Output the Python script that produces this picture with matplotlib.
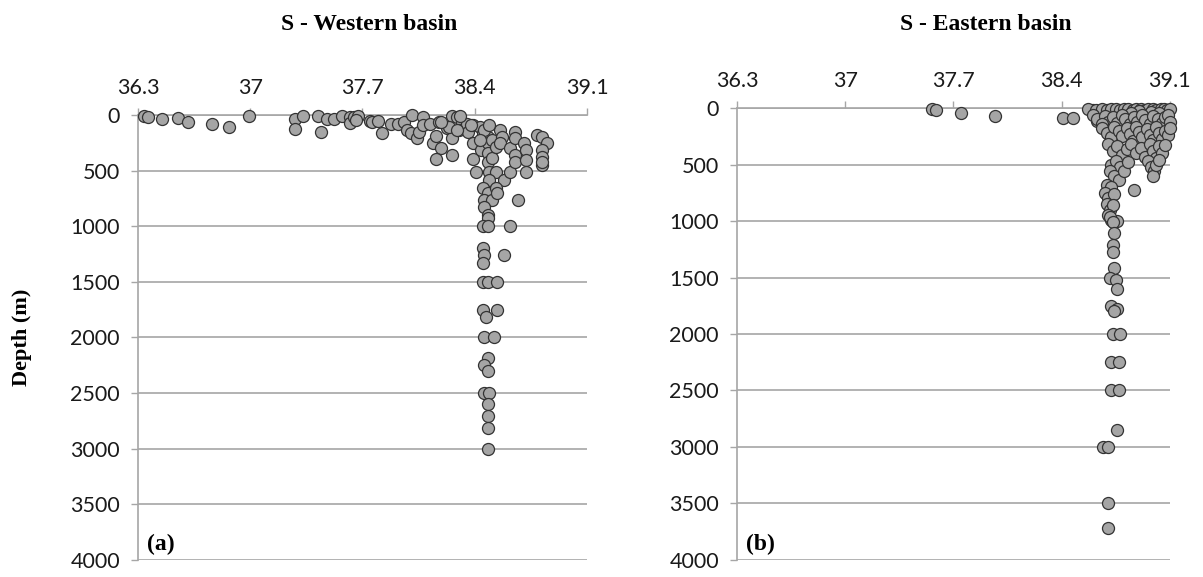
#!/usr/bin/env python3
from __future__ import annotations

import matplotlib

matplotlib.use("Agg")
import matplotlib.pyplot as plt

# Salinity (S) vs depth (m).
west_salinity = [
    36.34, 36.36, 36.45, 36.55, 36.61, 36.76, 36.87, 36.99, 37.28, 37.28,
    37.33, 37.42, 37.44, 37.48, 37.52, 37.57, 37.62, 37.62, 37.65, 37.67,
    37.66, 37.75, 37.76, 37.80, 37.82, 37.88, 37.92, 37.96, 37.98, 38.00,
    38.01, 38.04, 38.05, 38.08, 38.08, 38.12, 38.14, 38.16, 38.19, 38.18,
    38.16, 38.23, 38.26, 38.26, 38.26, 38.29, 38.32, 38.30, 38.35, 38.36,
    38.39, 38.39, 38.39, 38.41, 38.31, 38.24, 38.43, 38.44, 38.45, 38.48,
    38.48, 38.48, 38.48, 38.51, 38.51, 38.49, 38.53, 38.49, 38.53, 38.56,
    38.57, 38.56, 38.58, 38.62, 38.62, 38.65, 38.65, 38.65, 38.65, 38.71,
    38.72, 38.72, 38.72, 38.79, 38.82, 38.85, 38.82, 38.82, 38.82, 38.82,
    38.46, 38.43, 38.49, 38.19, 38.29, 38.38,
    38.45, 38.48, 38.53, 38.46, 38.51, 38.54, 38.46, 38.48, 38.48, 38.67,
    38.45, 38.48, 38.62, 38.45, 38.46, 38.45, 38.58,
    38.45, 38.48, 38.54, 38.45, 38.54, 38.47, 38.46, 38.52, 38.48, 38.46,
    38.48, 38.46, 38.49, 38.48, 38.48, 38.48, 38.48,
]
west_depth = [
    10, 20, 35, 25, 65, 80, 110, 10, 35, 125,
    10, 10, 150, 35, 35, 10, 20, 70, 20, 10,
    45, 55, 65, 55, 160, 80, 80, 65, 135, 160,
    0, 205, 150, 20, 90, 80, 250, 190, 300, 65,
    400, 115, 10, 205, 360, 20, 65, 135, 80, 150,
    90, 250, 400, 510, 10, 110, 110, 315, 160, 200,
    250, 340, 420, 225, 385, 510, 510, 585, 285, 135,
    200, 250, 585, 510, 295, 150, 205, 360, 420, 250,
    315, 405, 510, 180, 200, 250, 315, 375, 450, 420,
    135, 225, 90, 60, 135, 90,
    655, 700, 655, 765, 765, 700, 825, 900, 925, 765,
    1000, 1000, 1000, 1195, 1255, 1330, 1255,
    1500, 1500, 1500, 1750, 1750, 1815, 2000, 2000, 2180, 2250,
    2300, 2500, 2500, 2600, 2710, 2810, 3000,
]

east_salinity = [
    37.56, 37.59, 37.75, 37.97, 38.41, 38.47, 38.60, 38.63,
    38.57, 38.62, 38.66, 38.69, 38.72, 38.75, 38.78, 38.80, 38.83, 38.86,
    38.88, 38.91, 38.94, 38.96, 38.99, 39.01, 39.04, 39.06, 39.08, 39.10,
    38.90, 38.85, 38.98, 39.03,
    38.60, 38.63, 38.68, 38.70, 38.73, 38.76, 38.79, 38.81, 38.84, 38.87,
    38.89, 38.92, 38.94, 38.97, 38.99, 39.02, 39.05, 39.07, 39.09, 39.10,
    38.66,
    38.66, 38.69, 38.72, 38.74, 38.77, 38.79, 38.82, 38.84, 38.86, 38.88,
    38.90, 38.92, 38.95, 38.97, 38.99, 39.01, 39.03, 39.05, 39.07, 39.09,
    39.10,
    38.70, 38.73, 38.76, 38.79, 38.82, 38.85, 38.88, 38.91, 38.94, 38.97,
    38.99, 39.01, 39.03, 39.05, 39.07,
    38.72, 38.75, 38.78, 38.71, 38.74, 38.77, 38.80, 38.83, 38.96, 38.98,
    39.00, 38.99, 39.01, 39.03,
    38.69, 38.72, 38.68, 38.70, 38.74, 38.87, 38.69, 38.71, 38.73, 38.70,
    38.72, 38.76, 38.71, 38.73, 38.74, 38.73, 38.73, 38.74,
    38.71, 38.75, 38.76, 38.72, 38.76, 38.74, 38.73, 38.78, 38.72, 38.77,
    38.72, 38.77, 38.76, 38.67, 38.70, 38.70, 38.70,
]
east_depth = [
    10, 15, 45, 75, 90, 90, 15, 115,
    10, 15, 5, 20, 10, 5, 15, 10, 5, 20,
    10, 5, 15, 10, 5, 20, 10, 5, 15, 10,
    30, 40, 35, 40,
    60, 100, 70, 120, 80, 130, 60, 100, 140, 80,
    120, 60, 110, 140, 70, 100, 130, 80, 60, 120,
    140,
    180, 220, 260, 170, 200, 250, 180, 230, 290, 170,
    210, 260, 190, 240, 280, 170, 220, 270, 200, 240,
    180,
    320, 380, 340, 420, 360, 320, 400, 350, 430, 320,
    380, 440, 340, 400, 330,
    500, 470, 520, 560, 600, 640, 560, 480, 470, 520,
    560, 600, 500, 460,
    680, 700, 750, 800, 760, 730, 850, 900, 860, 950,
    990, 1000, 965, 1010, 1105, 1210, 1275, 1415,
    1500, 1520, 1600, 1750, 1780, 1800, 2000, 2000, 2250, 2250,
    2500, 2500, 2850, 3000, 3000, 3500, 3720,
]

salinity_ticks = [36.3, 37.0, 37.7, 38.4, 39.1]
salinity_labels = ["36.3", "37", "37.7", "38.4", "39.1"]
depth_ticks = list(range(0, 4001, 500))

GRID = "#a6a6a6"
SERIF = "Liberation Serif"
TICK_FONT = "Lato"


def _style_axis(ax) -> None:
    ax.set_xlim(36.3, 39.1)
    ax.set_ylim(4000, 0)
    ax.xaxis.tick_top()
    ax.set_xticks(salinity_ticks)
    ax.set_xticklabels(salinity_labels)
    ax.set_yticks(depth_ticks)
    ax.set_yticklabels([str(t) for t in depth_ticks])
    for side in ("right", "bottom"):
        ax.spines[side].set_visible(False)
    for side in ("left", "top"):
        ax.spines[side].set_color(GRID)
        ax.spines[side].set_linewidth(1.2)
    ax.yaxis.grid(True, color=GRID, lw=1.2)
    ax.set_axisbelow(True)
    ax.tick_params(axis="both", colors=GRID, length=5, width=1.0, labelcolor="#1a1a1a",
                   labelsize=15.5, direction="out")
    ax.tick_params(axis="x", pad=7)
    ax.tick_params(axis="y", pad=8)
    for lab in ax.get_xticklabels() + ax.get_yticklabels():
        lab.set_fontfamily(TICK_FONT)
    ax.set_facecolor("white")


def main() -> None:
    fig = plt.figure(figsize=(12.03, 5.77), dpi=100)
    ax_w = fig.add_axes([0.1147, 0.0295, 0.3732, 0.7712])
    ax_e = fig.add_axes([0.6126, 0.0295, 0.3599, 0.7833])

    for ax, s, d, tag in ((ax_w, west_salinity, west_depth, "(a)"),
                          (ax_e, east_salinity, east_depth, "(b)")):
        _style_axis(ax)
        ax.scatter(s, d, s=75, facecolor="#a5a5a5", edgecolor="#333333", linewidth=0.9,
                   zorder=3, clip_on=False)
        ax.text(0.02, 0.035, tag, transform=ax.transAxes, fontfamily=SERIF, fontweight="bold",
                fontsize=17, ha="left", va="center")

    fig.text(369 / 1203, 1 - 25 / 577, "S - Western basin", fontfamily=SERIF, fontweight="bold",
             fontsize=17, ha="center", va="center")
    fig.text(986 / 1203, 1 - 25 / 577, "S - Eastern basin", fontfamily=SERIF, fontweight="bold",
             fontsize=17, ha="center", va="center")
    fig.text(22 / 1203, 0.415, "Depth (m)", fontfamily=SERIF, fontweight="bold",
             fontsize=16, ha="center", va="center", rotation=90)

    fig.savefig("out.png", dpi=100, facecolor="white")
    plt.close(fig)


if __name__ == "__main__":
    main()
